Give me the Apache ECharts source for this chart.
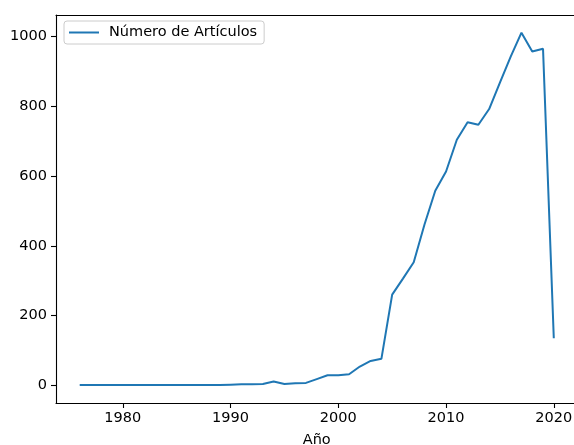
<!DOCTYPE html>
<html>
<head>
<meta charset="utf-8">
<script src="https://cdn.jsdelivr.net/npm/echarts@6/dist/echarts.min.js"></script>
<style>
  html, body { margin: 0; padding: 0; background: #ffffff; }
  #chart { width: 574px; height: 445px; }
</style>
</head>
<body>
<div id="chart"></div>
<script>
// datos
var years = [1976, 1977, 1978, 1979, 1980, 1981, 1982, 1983, 1984, 1985, 1986, 1987, 1988, 1989,
  1990, 1991, 1992, 1993, 1994, 1995, 1996, 1997, 1998, 1999, 2000, 2001, 2002, 2003, 2004,
  2005, 2006, 2007, 2008, 2009, 2010, 2011, 2012, 2013, 2014, 2015, 2016, 2017, 2018, 2019, 2020];
var articulos = [1, 1, 1, 1, 1, 1, 1, 1, 1, 1, 1, 1, 1, 1,
  2, 3, 3, 4, 11, 4, 6, 7, 18, 29, 29, 32, 54, 70, 76,
  260, 306, 353, 461, 558, 613, 704, 754, 747, 792, 868, 942, 1011, 957, 965, 135];
var xTicks = [1980, 1990, 2000, 2010, 2020];
var yTicks = [0, 200, 400, 600, 800, 1000];

var font = 'DejaVu Sans';
var chart = echarts.init(document.getElementById('chart'));

function plain(v) { return String(v); }

var option = {
  backgroundColor: '#ffffff',
  animation: false,
  grid: {
    left: 56,
    top: 15,
    right: -3.5,
    bottom: 42,
    outerBoundsMode: 'none',
    containLabel: false,
    show: false
  },
  legend: {
    left: 64,
    top: 21,
    orient: 'vertical',
    padding: [4, 7, 4, 5],
    itemWidth: 30,
    itemHeight: 2,
    itemGap: 0,
    icon: 'rect',
    backgroundColor: 'rgba(255,255,255,0.8)',
    borderColor: '#cccccc',
    borderWidth: 1,
    borderRadius: 3,
    textStyle: { fontFamily: font, fontSize: 14.5, color: '#000000', padding: [0, 0, 0, 5] },
    data: ['Número de Artículos']
  },
  xAxis: [{
    type: 'value',
    min: 1973.8,
    max: 2022.2,
    name: 'Año',
    nameLocation: 'middle',
    nameGap: 30,
    nameTextStyle: { fontFamily: font, fontSize: 14.5, color: '#000000' },
    splitLine: { show: false },
    axisLine: { onZero: false, lineStyle: { color: '#000000', width: 1.1 } },
    axisTick: { show: true, length: 5, customValues: xTicks, lineStyle: { color: '#000000', width: 1.1 } },
    axisLabel: { customValues: xTicks, formatter: plain, margin: 8, fontFamily: font, fontSize: 14.5, color: '#000000' }
  }, {
    // marco superior
    type: 'value',
    position: 'top',
    min: 1973.8,
    max: 2022.2,
    splitLine: { show: false },
    axisLine: { show: true, onZero: false, lineStyle: { color: '#000000', width: 1.1 } },
    axisTick: { show: false },
    axisLabel: { show: false }
  }],
  yAxis: {
    type: 'value',
    min: -50.55,
    max: 1061.55,
    splitLine: { show: false },
    axisLine: { show: true, onZero: false, lineStyle: { color: '#000000', width: 1.1 } },
    axisTick: { show: true, length: 5, customValues: yTicks, lineStyle: { color: '#000000', width: 1.1 } },
    axisLabel: { customValues: yTicks, formatter: plain, margin: 9, fontFamily: font, fontSize: 14.5, color: '#000000' }
  },
  series: [{
    name: 'Número de Artículos',
    type: 'line',
    showSymbol: false,
    symbol: 'none',
    color: '#1f77b4',
    lineStyle: { width: 2, color: '#1f77b4' },
    data: years.map(function (y, i) { return [y, articulos[i]]; })
  }]
};

chart.setOption(option);
</script>
</body>
</html>
